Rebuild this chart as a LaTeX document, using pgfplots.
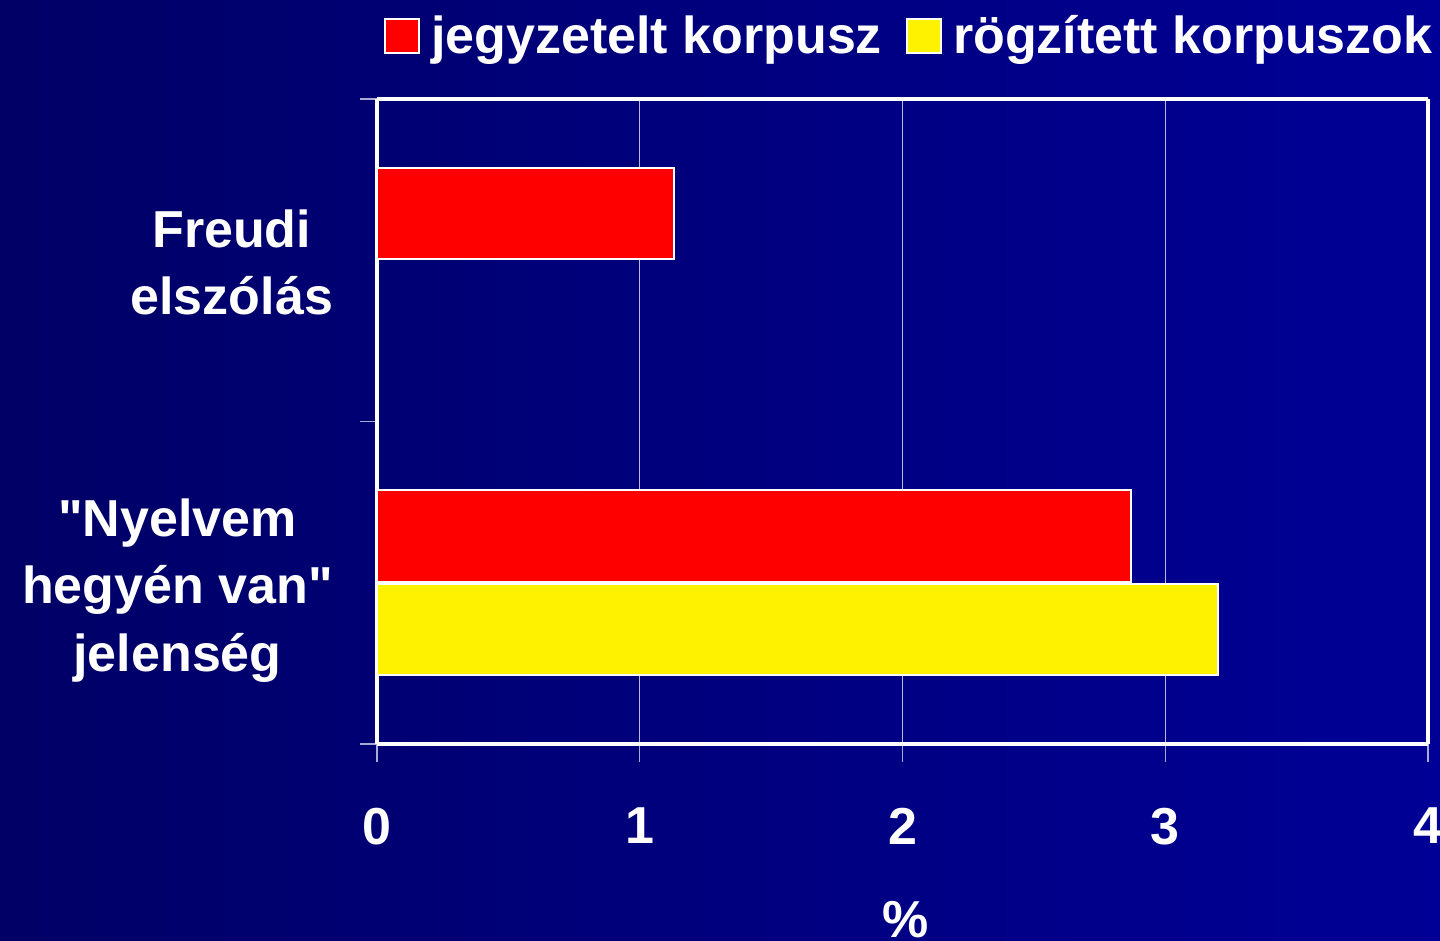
\documentclass[border=0pt]{standalone}
\usepackage{fontspec}
\setmainfont{Liberation Sans}[Ligatures=TeXOff]
\usepackage{pgfplots}
\pgfplotsset{compat=1.18}
\definecolor{bgL}{RGB}{0,0,102}
\definecolor{bgR}{RGB}{0,0,150}
\definecolor{tickc}{RGB}{170,170,215}
\definecolor{gridc}{RGB}{185,185,225}
\newcommand{\bigf}{\fontsize{26}{33.75}\selectfont\bfseries}
\begin{document}
\begin{tikzpicture}
\useasboundingbox (0,0) rectangle (720pt,470.5pt);
\clip (0,0) rectangle (720pt,470.5pt);
\shade[left color=bgL, right color=bgR] (0,0) rectangle (720pt,470.5pt);
\begin{axis}[
    at={(188.5pt,98.5pt)}, anchor=south west,
    scale only axis,
    width=525.5pt, height=322.5pt,
    xbar, bar width=0.285,
    xmin=0, xmax=4, ymin=-0.5, ymax=1.5,
    xtick={0,1,2,3,4},
    ytick={0,1},
    yticklabels={{"Nyelvem\\hegyén van"\\jelenség},{Freudi\\elszólás}},
    minor ytick={-0.5,0.5,1.5},
    tick align=outside,
    tick pos=left,
    major tick length=9pt,
    minor tick length=8.5pt,
    major y tick style={draw=none},
    x tick style={draw=tickc, line width=0.6pt},
    minor y tick style={draw=tickc, line width=0.6pt},
    xmajorgrids,
    major grid style={draw=gridc, line width=0.5pt},
    separate axis lines,
    every outer x axis line/.append style={draw=white, line width=1.6pt},
    every outer y axis line/.append style={draw=white, line width=1.6pt},
    /pgf/number format/assume math mode=true,
    xticklabel style={font=\bigf, text=white, yshift=-19.5pt},
    yticklabel style={font=\bigf, text=white, align=center, text depth=0pt, xshift=-9.5pt, yshift=-1pt},
    xlabel={\%},
    xlabel style={font=\bigf, text=white, at={(axis description cs:0.5,0)}, anchor=base, xshift=1.5pt, yshift=-97pt},
    legend columns=2,
    legend style={at={(1,1)}, anchor=south east, xshift=4.5pt, yshift=19pt,
        draw=none, fill=none, inner sep=0pt, font=\bigf, text=white,
        /tikz/every odd column/.append style={column sep=3.5pt},
        /tikz/every even column/.append style={column sep=10pt}},
    legend image code/.code={\draw[#1] (0pt,-8.5pt) rectangle (17pt,8.5pt);},
]
\addplot[fill=red, draw=white, line width=1pt, bar shift=0.145] coordinates {(1.13,1) (2.87,0)};
\addlegendentry{jegyzetelt korpusz}
\addplot[fill=yellow, draw=white, line width=1pt, bar shift=-0.145] coordinates {(3.20,0)};
\addlegendentry{rögzített korpuszok}
\end{axis}
\end{tikzpicture}
\end{document}
